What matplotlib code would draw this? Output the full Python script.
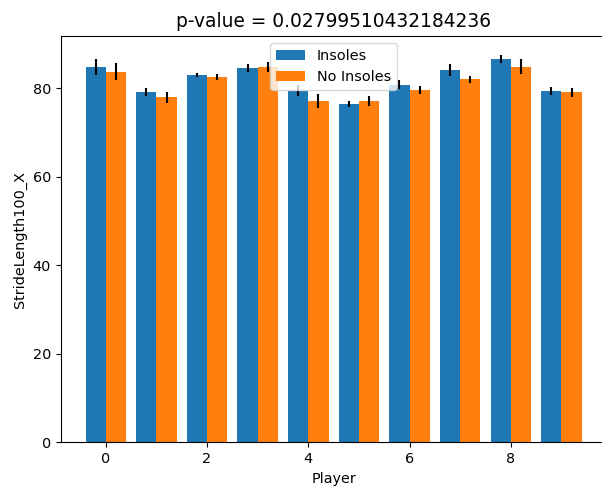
import numpy as np
import matplotlib
matplotlib.use("Agg")
import matplotlib.pyplot as plt

# ── data ─────────────────────────────────────────────────────────────────────
players = np.arange(10)
insoles = [84.8, 79.1, 82.9, 84.5, 79.4, 76.4, 80.8, 84.1, 86.5, 79.3]
insoles_err = [1.75, 0.8, 0.5, 0.9, 1.2, 0.6, 1.0, 1.4, 0.95, 0.85]
no_insoles = [83.7, 77.9, 82.55, 84.8, 77.1, 77.1, 79.5, 82.0, 84.8, 79.0]
no_insoles_err = [1.9, 1.25, 0.7, 1.1, 1.5, 1.1, 0.95, 0.8, 1.65, 0.95]
p_value = 0.02799510432184236

W, H = 602, 492
fig = plt.figure(figsize=(W / 100, H / 100), dpi=100)
left, right, top, bottom = 60.7, 606.5, 35.7, 442.3
ax = fig.add_axes([left / W, 1 - bottom / H, (right - left) / W, (bottom - top) / H])

width = 0.4
ax.bar(players - width / 2, insoles, width, yerr=insoles_err, label="Insoles")
ax.bar(players + width / 2, no_insoles, width, yerr=no_insoles_err, label="No Insoles")

# the reference image is cropped just before the right spine
ax.spines["right"].set_visible(False)

ax.set_xticks([0, 2, 4, 6, 8])
ax.tick_params(labelsize=10.4)
ax.set_xlabel("Player", fontsize=10.4)
ax.set_ylabel("StrideLength100_X", fontsize=10.4)
ax.set_title(f"p-value = {p_value}", fontsize=13.4)
ax.legend(loc="upper center", fontsize=10.4)

fig.savefig("out.png", dpi=100)
